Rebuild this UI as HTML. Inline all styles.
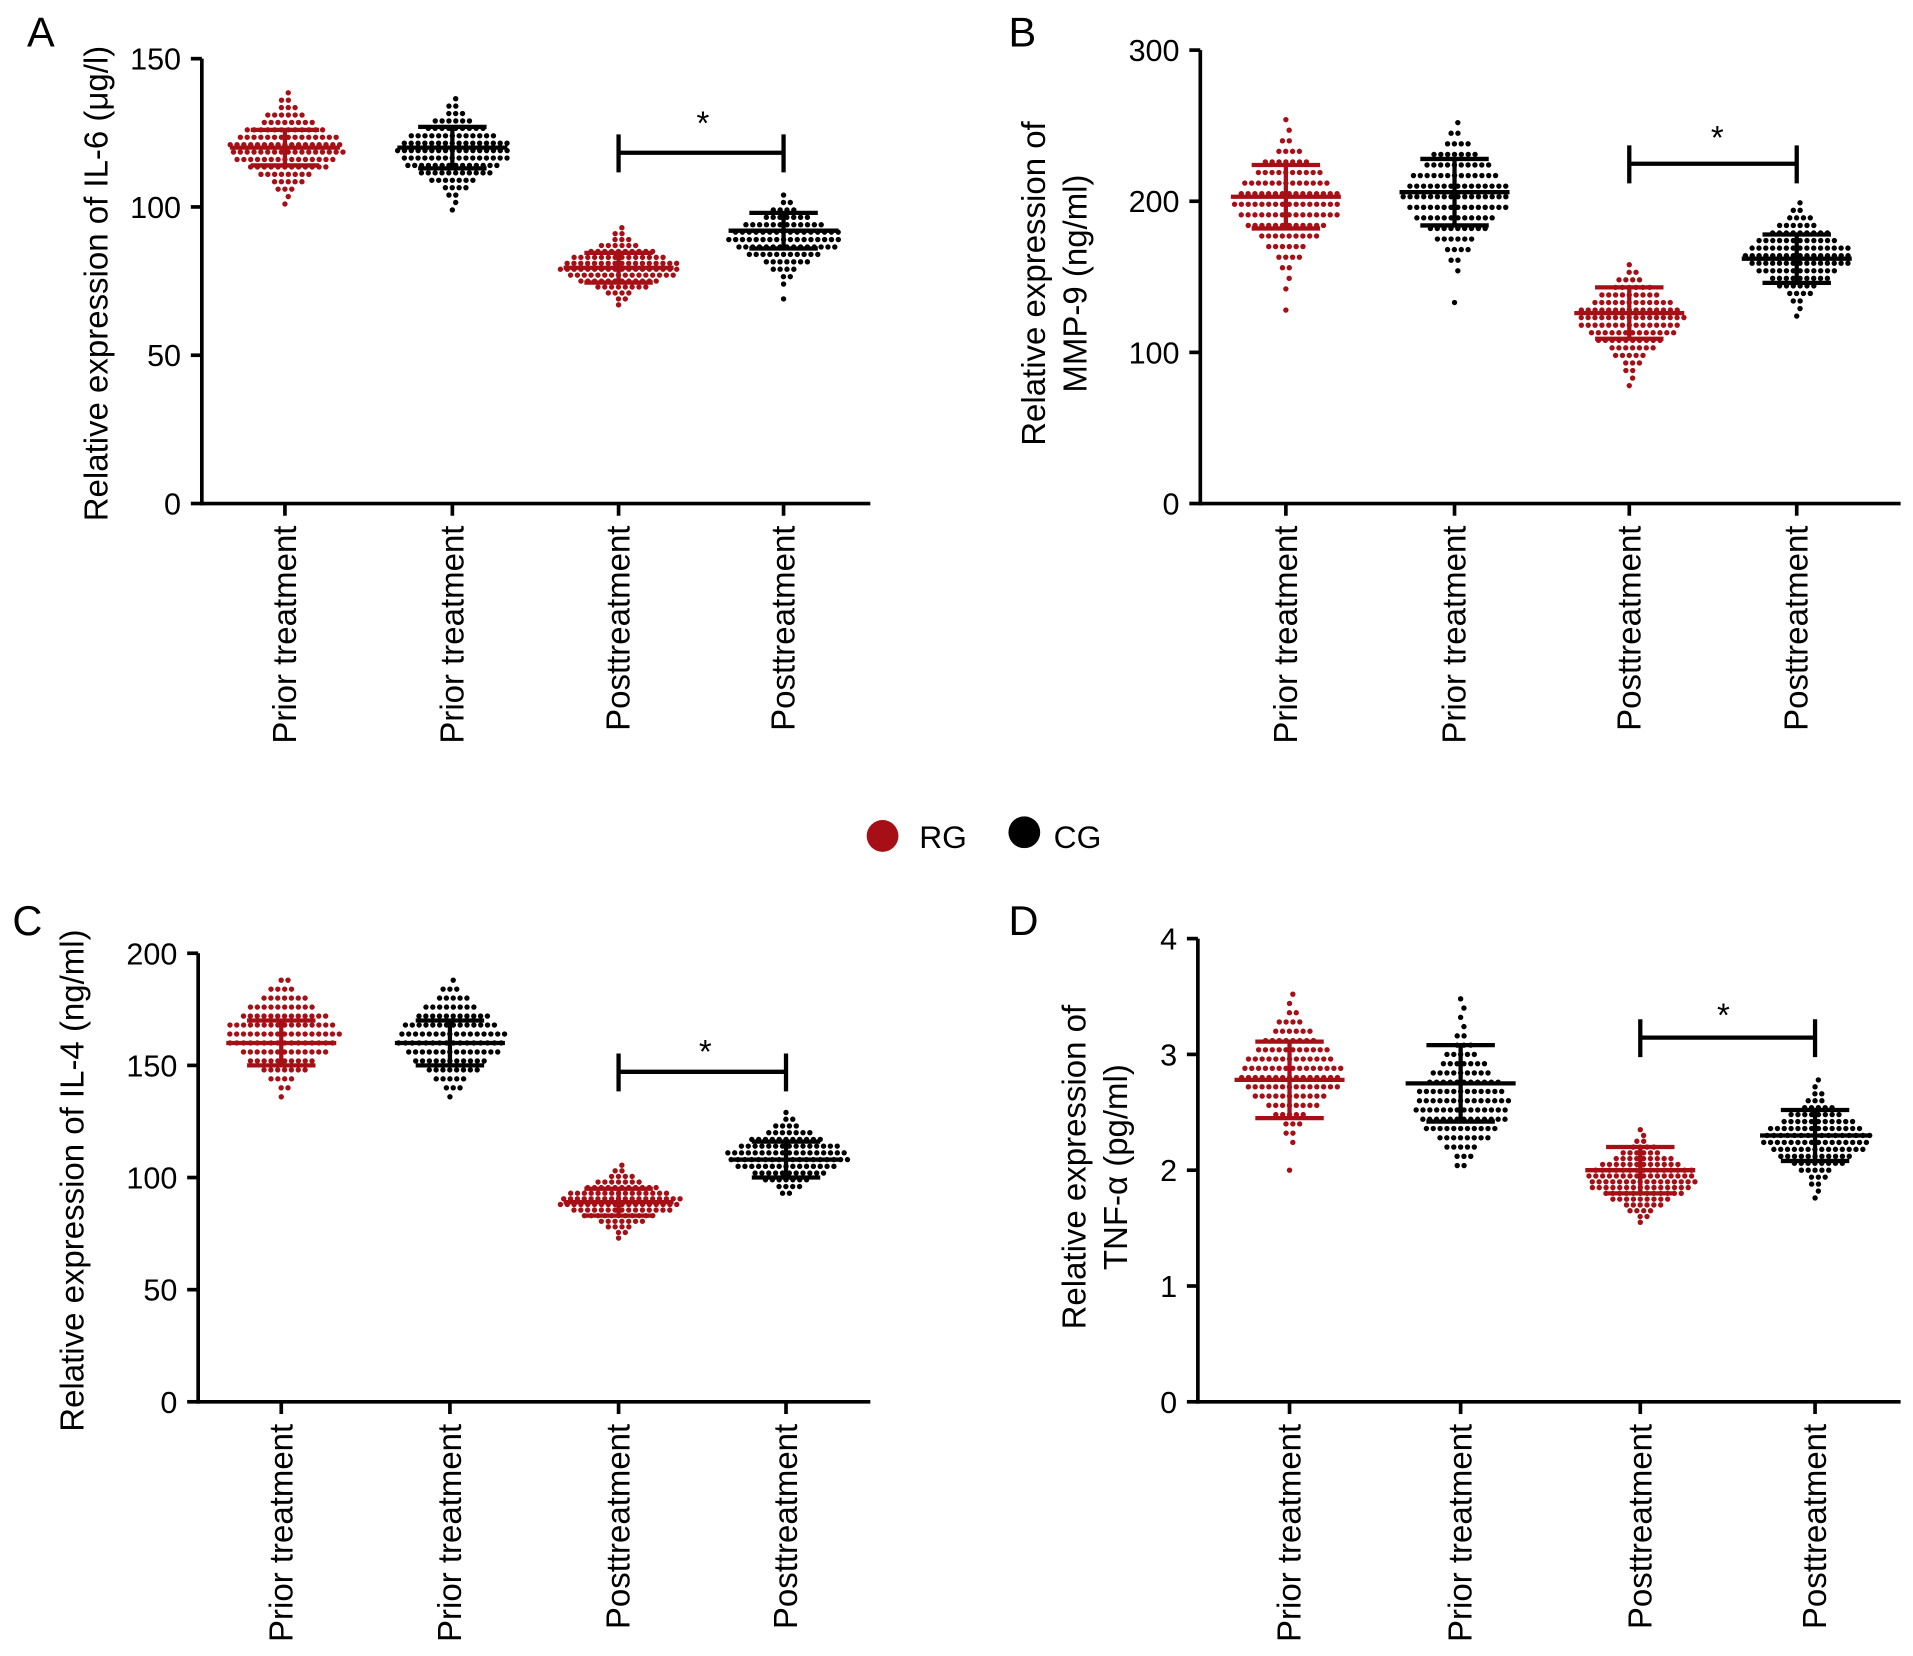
<!DOCTYPE html>
<html><head><meta charset="utf-8">
<style>
html,body{margin:0;padding:0;background:#fff;}
svg{display:block;font-family:"Liberation Sans",sans-serif;}
</style></head>
<body>
<svg id="fig" width="1913" height="1656" viewBox="0 0 1565 1355" xmlns="http://www.w3.org/2000/svg">
  <g>
    <circle cx="722" cy="684" r="13" fill="#a50f15"/>
    <text x="752" y="694" font-size="26">RG</text>
    <circle cx="838" cy="681" r="13" fill="#000"/>
    <text x="862" y="694" font-size="26">CG</text>
  </g>
</svg>
<script>
const categories = ["Prior treatment","Prior treatment","Posttreatment","Posttreatment"];
const groupColors = ["#a50f15","#000000","#a50f15","#000000"];

// Panel A: IL-6
const aTicks = [0,50,100,150];
const aMeans = [120,120,79.5,92];
const aSD = [6,7,5,6];
const aLo = [101,99,67,69];
const aStep = [2.5,2.5,2,2.5];
const aCounts0 = [1,1,3,5,8,12,15,17,17,15,12,8,6,3,2,1];
const aCounts1 = [1,1,2,4,7,11,14,16,17,16,13,9,6,3,2,1];
const aCounts2 = [1,2,4,8,12,16,18,17,14,10,6,3,2,1];
const aCounts3 = [1,0,1,2,4,7,11,15,17,16,12,7,4,2,1];

// Panel B: MMP-9
const bTicks = [0,100,200,300];
const bMeans = [203,206,126,162];
const bSD = [21,22,17,16];
const bLo = [128,133,78,124];
const bStep = [7,7,5,5];
const bCounts0 = [1,0,1,1,2,4,6,9,12,15,16,15,13,10,7,4,2,1,1];
const bCounts1 = [1,0,0,1,2,4,6,9,12,15,16,15,13,10,7,4,2,1];
const bCounts2 = [1,1,2,3,5,7,10,13,15,16,15,12,9,6,4,2,1];
const bCounts3 = [1,1,2,4,6,9,12,15,16,15,12,9,6,4,2,1];

// Panel C: IL-4
const cTicks = [0,50,100,150,200];
const cMeans = [160,160,89,108];
const cSD = [10,10,6,8];
const cLo = [136,136,73,93];
const cStep = [4,4,2.5,3];
const cCounts0 = [1,2,4,7,10,13,16,17,16,13,10,7,4,2];
const cCounts1 = [1,3,5,8,11,14,16,16,14,11,8,5,3,1];
const cCounts2 = [1,2,4,7,11,15,18,18,15,11,7,4,2,1];
const cCounts3 = [2,4,7,11,15,18,18,15,11,7,4,2,1];

// Panel D: TNF-alpha
const dTicks = [0,1,2,3,4];
const dMeans = [2.78,2.75,2.0,2.3];
const dSD = [0.33,0.33,0.2,0.22];
const dLo = [2.0,2.04,1.55,1.76];
const dStep = [0.08,0.08,0.05,0.06];
const dCounts0 = [1,0,0,1,2,3,5,8,11,14,15,15,13,11,8,6,4,2,1,1];
const dCounts1 = [2,3,5,8,11,13,14,14,13,11,9,7,5,3,2,1,1,1,1];
const dCounts2 = [1,2,4,6,9,12,15,16,16,15,12,9,6,4,2,1,1];
const dCounts3 = [1,1,2,3,5,8,11,14,16,16,14,11,8,5,3,2,1,1];

const NS = "http://www.w3.org/2000/svg";
const svg = document.getElementById("fig");
function mk(tag, attrs, parent){
  const e = document.createElementNS(NS, tag);
  for (const k in attrs) e.setAttribute(k, attrs[k]);
  (parent||svg).appendChild(e);
  return e;
}

const panels = [
  {id:"a", letter:"A", lx:22, ly:38, x0:165, x1:712, yTop:48, yBot:412, max:150, cx:[233,370,506,641],
   ticks:aTicks, means:aMeans, sd:aSD, lo:aLo, step:aStep, counts:[aCounts0,aCounts1,aCounts2,aCounts3],
   title:["Relative expression of IL-6 (μg/l)"], tx:[88], ty:232, br:[2,3], brY:125, star:[575,100]},
  {id:"b", letter:"B", lx:825, ly:38, x0:982, x1:1555, yTop:41, yBot:412, max:300, cx:[1052,1190,1333,1470],
   ticks:bTicks, means:bMeans, sd:bSD, lo:bLo, step:bStep, counts:[bCounts0,bCounts1,bCounts2,bCounts3],
   title:["Relative expression of","MMP-9 (ng/ml)"], tx:[855,889], ty:232, br:[2,3], brY:134, star:[1405,112]},
  {id:"c", letter:"C", lx:10, ly:765, x0:162, x1:712, yTop:780, yBot:1147, max:200, cx:[230,368,506,643],
   ticks:cTicks, means:cMeans, sd:cSD, lo:cLo, step:cStep, counts:[cCounts0,cCounts1,cCounts2,cCounts3],
   title:["Relative expression of IL-4 (ng/ml)"], tx:[68], ty:966, br:[2,3], brY:877, star:[577,860]},
  {id:"d", letter:"D", lx:825, ly:765, x0:980, x1:1555, yTop:768, yBot:1147, max:4, cx:[1055,1195,1342,1485],
   ticks:dTicks, means:dMeans, sd:dSD, lo:dLo, step:dStep, counts:[dCounts0,dCounts1,dCounts2,dCounts3],
   title:["Relative expression of","TNF-α (pg/ml)"], tx:[888,922], ty:955, br:[2,3], brY:849, star:[1410,830]}
];

panels.forEach(p => {
  const g = mk("g", {});
  
  
  const ys = v => p.yBot - (v / p.max) * (p.yBot - p.yTop);

  const L = mk("text", {x:p.lx, y:p.ly, "font-size":34}, g);
  L.textContent = p.letter;
  
  

  const ya = mk("line", {x1:p.x0, x2:p.x0, y1:p.yTop, y2:p.yBot+1.5, stroke:"#000","stroke-width":3}, g);
  
  
  const xa = mk("line", {x1:p.x0-1.5, x2:p.x1, y1:p.yBot, y2:p.yBot, stroke:"#000","stroke-width":3}, g);
  
  

  p.ticks.forEach(t => {
    const y = ys(t);
    const tl = mk("line", {x1:p.x0-9, x2:p.x0, y1:y, y2:y, stroke:"#000","stroke-width":3}, g);
    
    
    const tt = mk("text", {x:p.x0-17, y:y+9, "font-size":25, "text-anchor":"end"}, g);
    tt.textContent = t;
    
    
  });

  p.title.forEach((s, i) => {
    const tt = mk("text", {x:p.tx[i], y:p.ty, "font-size":27, "text-anchor":"middle", transform:`rotate(-90 ${p.tx[i]} ${p.ty})`}, g);
    tt.textContent = s;
    
    
  });

  categories.forEach((c, i) => {
    const x = p.cx[i];
    const tl = mk("line", {x1:x, x2:x, y1:p.yBot, y2:p.yBot+10, stroke:"#000","stroke-width":3}, g);
    
    
    const ly = p.yBot + 18;
    const tt = mk("text", {x:x+9, y:ly, "font-size":27, "text-anchor":"end", transform:`rotate(-90 ${x+9} ${ly})`}, g);
    tt.textContent = c;
    
    

    const counts = p.counts[i];
    counts.forEach((n, b) => {
      const y = ys(p.lo[i] + b * p.step[i]);
      const off = (b % 2) ? 2.7 : 0;
      for (let k = 0; k < n; k++) {
        const dx = (k - (n - 1) / 2) * 5.6 + off;
        const d = mk("circle", {cx:x + dx, cy:y, r:2.2, fill:groupColors[i]}, g);
        
        
      }
    });

    const col = groupColors[i];
    const m = ys(p.means[i]), hi = ys(p.means[i] + p.sd[i]), lo = ys(p.means[i] - p.sd[i]);
    const ml = mk("line", {x1:x-45, x2:x+45, y1:m, y2:m, stroke:col, "stroke-width":3.5}, g);
    
    
    const vl = mk("line", {x1:x, x2:x, y1:hi, y2:lo, stroke:col, "stroke-width":3.5}, g);
    
    
    [hi, lo].forEach(yy => {
      const cl = mk("line", {x1:x-28, x2:x+28, y1:yy, y2:yy, stroke:col, "stroke-width":3.5}, g);
      
      
    });
  });

  const bx1 = p.cx[p.br[0]], bx2 = p.cx[p.br[1]];
  const bp = mk("path", {d:`M${bx1} ${p.brY-15}V${p.brY+16}M${bx1} ${p.brY}H${bx2}M${bx2} ${p.brY-15}V${p.brY+16}`, stroke:"#000", "stroke-width":3.5, fill:"none"}, g);
  
  
  const st = mk("text", {x:p.star[0], y:p.star[1]+10, "font-size":27, "text-anchor":"middle"}, g);
  st.textContent = "*";
  
  
});
</script>
</body></html>
